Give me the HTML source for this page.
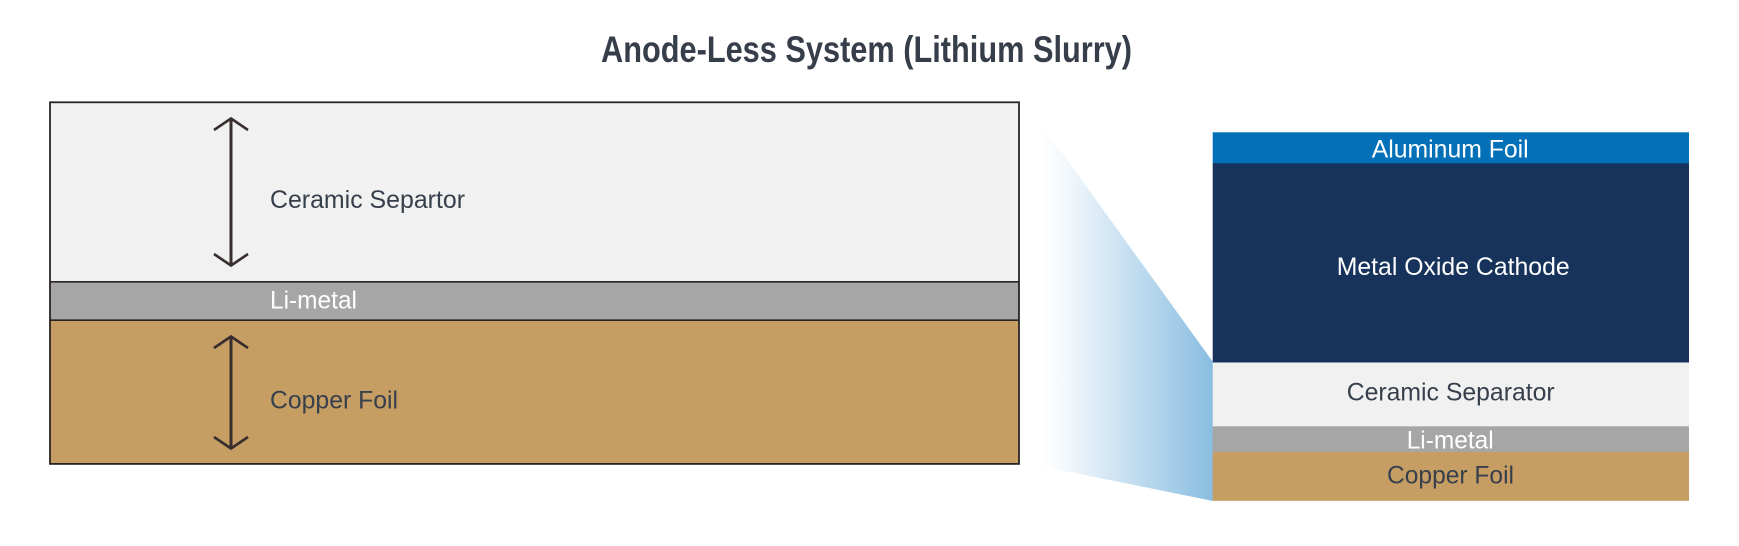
<!DOCTYPE html>
<html>
<head>
<meta charset="utf-8">
<style>
  html,body{margin:0;padding:0;background:#ffffff;}
  body{width:1739px;height:546px;overflow:hidden;}
  svg{display:block;}
  text{font-family:"Liberation Sans", Arial, sans-serif;}
</style>
</head>
<body>
<svg width="1739" height="546" viewBox="0 0 1739 546" xmlns="http://www.w3.org/2000/svg">
  <defs>
    <linearGradient id="zoomGrad" x1="1040" y1="0" x2="1213" y2="0" gradientUnits="userSpaceOnUse">
      <stop offset="0" stop-color="#ffffff"/>
      <stop offset="0.15" stop-color="#f3f8fc"/>
      <stop offset="1" stop-color="#89bde1"/>
    </linearGradient>
  </defs>

  <!-- Title -->
  <text x="601" y="62" font-size="37" font-weight="bold" fill="#363e4a" textLength="531" lengthAdjust="spacingAndGlyphs">Anode-Less System (Lithium Slurry)</text>

  <!-- Left cross-section -->
  <rect x="50" y="102" width="969" height="180" fill="#f1f1f1"/>
  <rect x="50" y="282" width="969" height="38" fill="#a6a6a6"/>
  <rect x="50" y="320" width="969" height="144" fill="#c69e64"/>
  <line x1="50" y1="281.8" x2="1019" y2="281.8" stroke="#2b2424" stroke-width="1.6"/>
  <line x1="50" y1="320.2" x2="1019" y2="320.2" stroke="#2b2424" stroke-width="1.6"/>
  <rect x="50" y="102.3" width="969" height="361.6" fill="none" stroke="#2b2424" stroke-width="1.8"/>

  <!-- Arrows -->
  <g stroke="#382e2e" fill="none" stroke-linecap="butt" stroke-linejoin="miter">
    <line x1="231" y1="119" x2="231" y2="265" stroke-width="3"/>
    <polyline points="214,130 231,118.5 248,130" stroke-width="2.6"/>
    <polyline points="214,254 231,265.5 248,254" stroke-width="2.6"/>
    <line x1="231" y1="337" x2="231" y2="448" stroke-width="3"/>
    <polyline points="214,348 231,336.5 248,348" stroke-width="2.6"/>
    <polyline points="214,437 231,448.5 248,437" stroke-width="2.6"/>
  </g>

  <!-- Left labels -->
  <text x="270" y="208" font-size="25" fill="#363f4b" textLength="195" lengthAdjust="spacingAndGlyphs">Ceramic Separtor</text>
  <text x="270" y="308.3" font-size="25" fill="#ffffff" textLength="87" lengthAdjust="spacingAndGlyphs">Li-metal</text>
  <text x="270" y="408.3" font-size="25" fill="#363f4b" textLength="128" lengthAdjust="spacingAndGlyphs">Copper Foil</text>

  <!-- Zoom gradient -->
  <polygon points="1039,121 1213,362 1213,501 1043,466.5" fill="url(#zoomGrad)"/>

  <!-- Right stack -->
  <rect x="1212.7" y="132.3" width="476.3" height="31.2" fill="#0370b8"/>
  <rect x="1212.7" y="163.3" width="476.3" height="198.9" fill="#17335b"/>
  <rect x="1212.7" y="362" width="476.3" height="64" fill="#f1f1f1"/>
  <rect x="1212.7" y="426" width="476.3" height="26" fill="#a6a6a6"/>
  <rect x="1212.7" y="452" width="476.3" height="48.8" fill="#c69e64"/>
  <line x1="1212.7" y1="362.5" x2="1689" y2="362.5" stroke="#8a97aa" stroke-width="1"/>
  <line x1="1212.7" y1="426.5" x2="1689" y2="426.5" stroke="#bdbdbd" stroke-width="1"/>

  <!-- Right labels -->
  <text x="1371.7" y="157.7" font-size="25" fill="#ffffff" textLength="157" lengthAdjust="spacingAndGlyphs">Aluminum Foil</text>
  <text x="1336.7" y="275" font-size="25" fill="#ffffff" textLength="233" lengthAdjust="spacingAndGlyphs">Metal Oxide Cathode</text>
  <text x="1346.7" y="400.7" font-size="25" fill="#363f4b" textLength="208" lengthAdjust="spacingAndGlyphs">Ceramic Separator</text>
  <text x="1406.7" y="448.3" font-size="25" fill="#ffffff" textLength="87" lengthAdjust="spacingAndGlyphs">Li-metal</text>
  <text x="1387" y="483.3" font-size="25" fill="#363f4b" textLength="127" lengthAdjust="spacingAndGlyphs">Copper Foil</text>
</svg>
</body>
</html>
